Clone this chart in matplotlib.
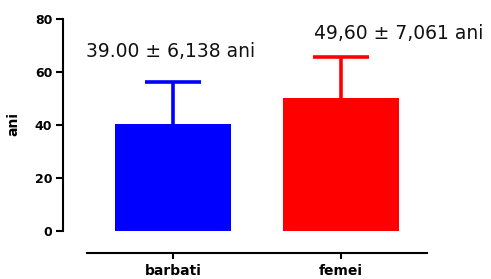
import matplotlib
matplotlib.use("Agg")
import matplotlib.pyplot as plt

categories = ["barbati", "femei"]
means = [40.4, 50.3]
errors = [15.9, 15.4]
colors = ["#0000ff", "#ff0000"]
annotations = ["39.00 ± 6,138 ani", "49,60 ± 7,061 ani"]
annot_x = [-0.518, 0.839]
annot_y = [67.9, 74.7]
yticks = [0, 20, 40, 60, 80]

plt.rcParams['font.family'] = ['DejaVu Sans']

fig = plt.figure(figsize=(4.91, 2.79), dpi=100)
ax = fig.add_axes([63/491, 48/279, (427-63)/491, (260-48)/279])

x = list(range(len(categories)))
cap_half = 0.167
tops = [m + e for m, e in zip(means, errors)]
ax.vlines(x, means, tops, colors=colors, linewidth=2.6, zorder=2)
ax.hlines(tops, [xi - cap_half for xi in x], [xi + cap_half for xi in x],
          colors=colors, linewidth=2.6, zorder=2)
ax.bar(x, means, width=0.69, color=colors, zorder=3)

ax.set_xlim(-0.655, 1.512)
ax.set_ylim(0, 80)
ax.set_yticks(yticks)
ax.set_xticks(x)
ax.set_xticklabels(categories)

for s in ['top', 'right']:
    ax.spines[s].set_visible(False)
ax.spines['left'].set_linewidth(1.5)
ax.spines['left'].set_bounds(0, 80)
ax.spines['bottom'].set_linewidth(1.5)
ax.spines['bottom'].set_position(('outward', 15.8))
ax.spines['bottom'].set_bounds(-0.512, 1.512)

ax.tick_params(axis='y', direction='out', length=4.7, width=1.5, pad=3,
               labelsize=9)
ax.tick_params(axis='x', direction='out', length=4.5, width=1.5, pad=3.5,
               labelsize=10)
for lbl in ax.get_yticklabels() + ax.get_xticklabels():
    lbl.set_fontweight('bold')

for tx, ty, t in zip(annot_x, annot_y, annotations):
    ax.text(tx, ty, t, ha='left', va='center', fontsize=13.5, color='#111111')

fig.text(13.5/491, 1 - 124/279, "ani", rotation=90, ha='center', va='center',
         fontsize=10, fontweight='bold')

fig.savefig("out.png", dpi=100)
